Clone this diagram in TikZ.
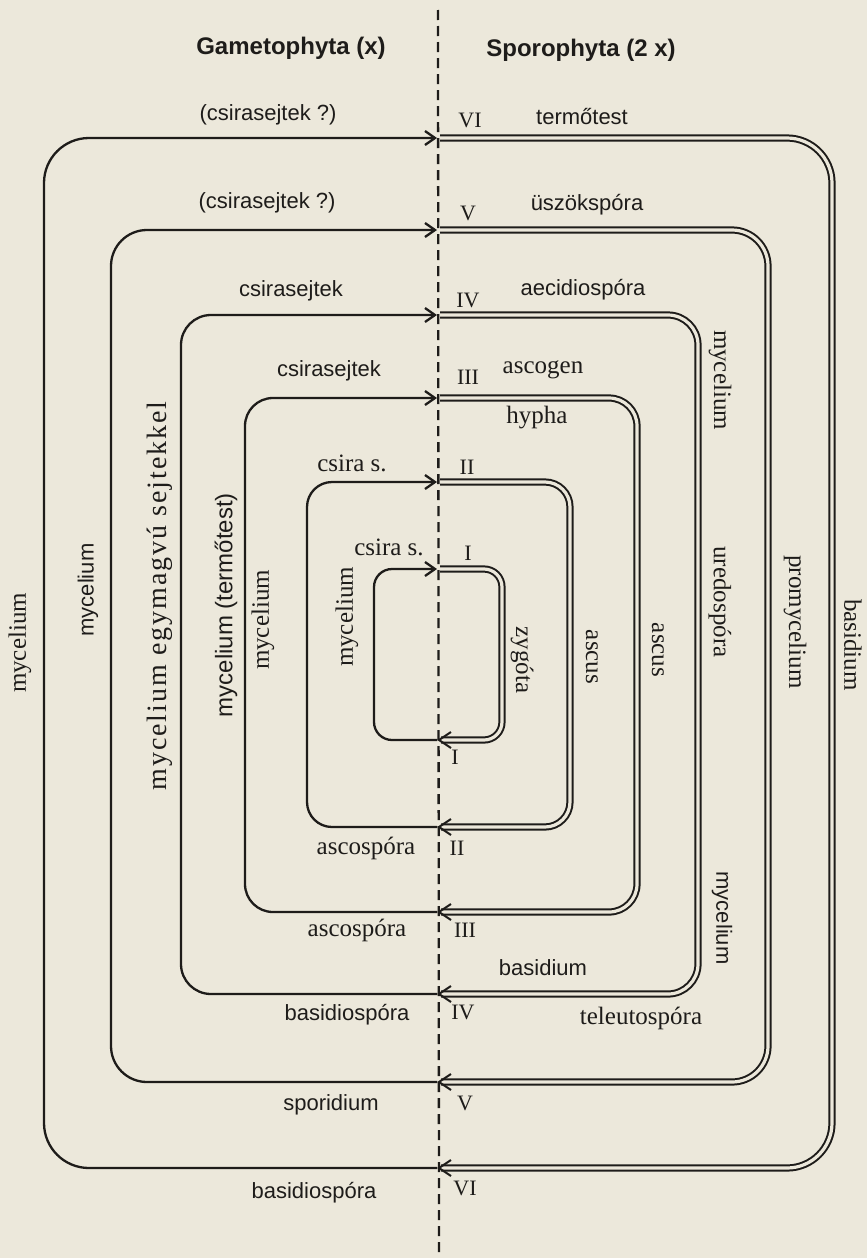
\documentclass[tikz,border=0pt]{standalone}
\usepackage{fontspec}
\setmainfont{Liberation Serif}
\newfontfamily\labsans{Liberation Sans}
\newfontfamily\widserif[LetterSpace=7]{Liberation Serif}
\usetikzlibrary{arrows.meta}
\definecolor{ink}{RGB}{30,28,26}
\definecolor{paper}{RGB}{236,232,219}
\tikzset{
  gamline/.style={draw=ink, line width=2.3pt, -{Straight Barb[length=10pt,width=14pt]}},
  sporline/.style={draw=ink, double=paper, double distance=3.2pt, line width=2pt},
  barbtip/.style={draw=ink, line width=2pt},
  midline/.style={draw=ink, line width=2.3pt, dash pattern=on 10pt off 6pt},
  sanslab/.style={text=ink, inner sep=0pt, font=\labsans\fontsize{22}{24}\selectfont},
  seriflab/.style={text=ink, inner sep=0pt, font=\fontsize{25}{27}\selectfont},
  numlab/.style={text=ink, inner sep=0pt, font=\fontsize{22}{24}\selectfont},
  headlab/.style={text=ink, inner sep=0pt, font=\labsans\bfseries\fontsize{24}{26}\selectfont},
}

\begin{document}
\begin{tikzpicture}[x=1pt, y=-1pt]
    % Paper
    \fill[paper] (0,0) rectangle (867,1258);
    \useasboundingbox (0,0) rectangle (867,1258);

    % Dividing line
    \coordinate (midtop) at (438,10);
    \coordinate (midbot) at (439,1256);
    \draw[midline] (midtop) -- (midbot);

    % Headings
    \node[headlab] (gamhead) at (291,48) {Gametophyta (x)};
    \node[headlab] (sporhead) at (581,50) {Sporophyta (2 x)};

    % Loop VI
    \draw[gamline, rounded corners=45pt] (437,1168) -- (44,1168) -- (44,138) -- (437,138);
    \draw[sporline, rounded corners=45pt] (440,138) -- (832,138) -- (832,1168) -- (441,1168);
    \draw[barbtip] (451,1160) -- (439,1168) -- (451,1176);

    % Loop V
    \draw[gamline, rounded corners=36pt] (437,1082) -- (111,1082) -- (111,230) -- (437,230);
    \draw[sporline, rounded corners=36pt] (440,230) -- (768,230) -- (768,1082) -- (441,1082);
    \draw[barbtip] (451,1074) -- (439,1082) -- (451,1090);

    % Loop IV
    \draw[gamline, rounded corners=30pt] (437,994) -- (181,994) -- (181,315) -- (437,315);
    \draw[sporline, rounded corners=30pt] (440,315) -- (698,315) -- (698,994) -- (441,994);
    \draw[barbtip] (451,986) -- (439,994) -- (451,1002);

    % Loop III
    \draw[gamline, rounded corners=28pt] (437,912) -- (245,912) -- (245,398) -- (437,398);
    \draw[sporline, rounded corners=28pt] (440,398) -- (637,398) -- (637,912) -- (441,912);
    \draw[barbtip] (451,904) -- (439,912) -- (451,920);

    % Loop II
    \draw[gamline, rounded corners=25pt] (437,827) -- (307,827) -- (307,482) -- (437,482);
    \draw[sporline, rounded corners=25pt] (440,482) -- (570,482) -- (570,827) -- (441,827);
    \draw[barbtip] (451,819) -- (439,827) -- (451,835);

    % Loop I
    \draw[gamline, rounded corners=18pt] (437,740) -- (374,740) -- (374,569) -- (437,569);
    \draw[sporline, rounded corners=18pt] (440,569) -- (502,569) -- (502,740) -- (441,740);
    \draw[barbtip] (451,732) -- (439,740) -- (451,748);

    % Upper labels
    \node[sanslab] (csira6) at (268,115) {(csirasejtek ?)};
    \node[numlab] (num6t) at (470,120) {VI};
    \node[sanslab] (termo) at (582,117) {termőtest};
    \node[sanslab] (csira5) at (267,203) {(csirasejtek ?)};
    \node[numlab] (num5t) at (468,213) {V};
    \node[sanslab] (uszok) at (587,205) {üszökspóra};
    \node[sanslab] (csira4) at (291,291) {csirasejtek};
    \node[numlab] (num4t) at (468,300) {IV};
    \node[sanslab] (aecid) at (583,290) {aecidiospóra};
    \node[sanslab] (csira3) at (329,371) {csirasejtek};
    \node[numlab] (num3t) at (468,377) {III};
    \node[seriflab] (ascogen) at (543,370) {ascogen};
    \node[seriflab] (hypha) at (537,418) {hypha};
    \node[seriflab] (csira2) at (352,463) {csira s.};
    \node[numlab] (num2t) at (467,467) {II};
    \node[seriflab] (csira1) at (389,547) {csira s.};
    \node[numlab] (num1t) at (468,553) {I};

    % Lower labels
    \node[numlab] (num1b) at (455,757) {I};
    \node[seriflab] (ascosp2) at (366,848) {ascospóra};
    \node[numlab] (num2b) at (457,848) {II};
    \node[seriflab] (ascosp3) at (357,930) {ascospóra};
    \node[numlab] (num3b) at (465,930) {III};
    \node[sanslab] (basid4) at (543,968) {basidium};
    \node[sanslab] (basidsp4) at (347,1015) {basidiospóra};
    \node[numlab] (num4b) at (463,1012) {IV};
    \node[seriflab] (teleut) at (641,1018) {teleutospóra};
    \node[sanslab] (sporid) at (331,1105) {sporidium};
    \node[numlab] (num5b) at (465,1103) {V};
    \node[sanslab] (basidsp6) at (314,1193) {basidiospóra};
    \node[numlab] (num6b) at (465,1188) {VI};

    % Side labels, gametophyte
    \node[seriflab, rotate=90] (myc6) at (20,643) {mycelium};
    \node[sanslab, rotate=90] (myc5) at (88,590) {mycelium};
    \node[seriflab, rotate=90, font=\widserif\fontsize{28}{30}\selectfont] (myc4) at (160,596) {mycelium egymagvú sejtekkel};
    \node[sanslab, rotate=90, font=\labsans\fontsize{24}{26}\selectfont] (myc3) at (226,605) {mycelium (termőtest)};
    \node[seriflab, rotate=90] (myc2) at (263,620) {mycelium};
    \node[seriflab, rotate=90] (myc1) at (347,617) {mycelium};

    % Side labels, sporophyte
    \node[seriflab, rotate=-90] (zygota) at (522,660) {zygóta};
    \node[seriflab, rotate=-90] (ascus2) at (592,657) {ascus};
    \node[seriflab, rotate=-90] (ascus3) at (658,650) {ascus};
    \node[seriflab, rotate=-90] (mycr4) at (720,380) {mycelium};
    \node[seriflab, rotate=-90] (uredo) at (720,602) {uredospóra};
    \node[sanslab, rotate=-90] (mycr5) at (722,918) {mycelium};
    \node[seriflab, rotate=-90] (promyc) at (795,622) {promycelium};
    \node[seriflab, rotate=-90] (basid6) at (853,645) {basidium};
\end{tikzpicture}
\end{document}
